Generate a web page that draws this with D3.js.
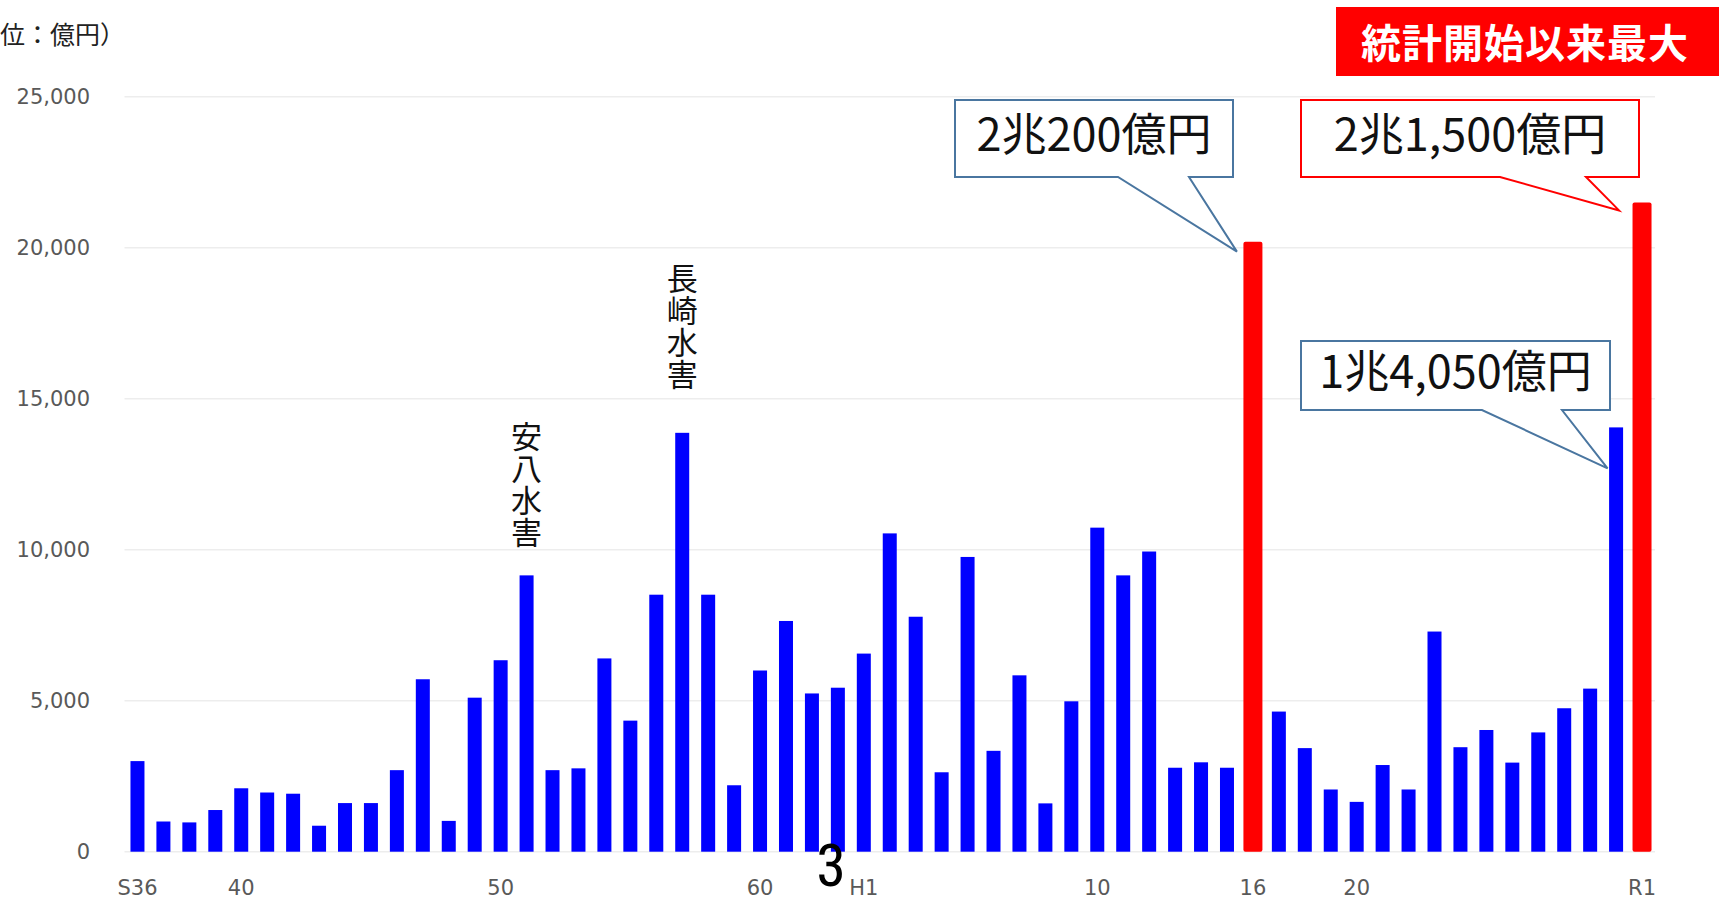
<!DOCTYPE html>
<html><head><meta charset="utf-8">
<script src="https://cdn.jsdelivr.net/npm/d3@7"></script>
<style>
html,body{margin:0;padding:0;background:#fff;overflow:hidden;}
svg{display:block;}
.vt{writing-mode:vertical-rl;text-orientation:upright;}
</style></head>
<body>
<svg id="c" width="1719" height="907"></svg>
<script>
const categories = [
  "S36","S37","S38","S39","S40","S41","S42","S43","S44","S45","S46","S47","S48","S49","S50",
  "S51","S52","S53","S54","S55","S56","S57","S58","S59","S60","S61","S62","S63",
  "H1","H2","H3","H4","H5","H6","H7","H8","H9","H10","H11","H12","H13","H14","H15","H16",
  "H17","H18","H19","H20","H21","H22","H23","H24","H25","H26","H27","H28","H29","H30","R1"
];
const values = [
  3000,1000,970,1380,2100,1960,1920,860,1610,1610,2700,5710,1020,5100,6340,
  9150,2700,2760,6400,4340,8510,13870,8510,2200,6000,7640,5240,5430,
  6560,10540,7780,2630,9760,3340,5840,1600,4980,10730,9150,9940,2780,2960,2780,20200,
  4640,3430,2060,1650,2870,2060,7290,3460,4030,2950,3950,4750,5400,14050,21500
];
const highlightCats = ["H16","R1"];
const yTicks = [0,5000,10000,15000,20000,25000];
const xTickCats = ["S36","S40","S50","S60","H1","H10","H16","H20","R1"];
const xTickText = ["S36","40","50","60","H1","10","16","20","R1"];
const calloutText = ["2兆200億円","2兆1,500億円","1兆4,050億円"];
const calloutCats = ["H16","R1","H30"];
const eventLabels = ["安八水害","長崎水害"];
const eventCats = ["S51","S57"];
const unitLabel = "（単位：億円）";
const badgeText = "統計開始以来最大";
const pageNo = "3";

const svg = d3.select("#c");
const x = d3.scaleBand().domain(categories).range([124.5,1655]).paddingInner(0).paddingOuter(0);
const y = d3.scaleLinear().domain([0,25000]).range([851.7,96.7]);
const cx = c => x(c) + x.bandwidth()/2;
const valOf = c => values[categories.indexOf(c)];

// gridlines
svg.append("g").selectAll("line").data(yTicks).join("line")
  .attr("x1",124.5).attr("x2",1655)
  .attr("y1",d=>y(d)).attr("y2",d=>y(d))
  .attr("stroke","#EDEDED").attr("stroke-width",1.5);

// y tick labels
svg.append("g").selectAll("text").data(yTicks).join("text")
  .attr("x",90).attr("y",d=>y(d)).attr("dy","0.36em")
  .attr("text-anchor","end")
  .attr("font-family","DejaVu Sans, sans-serif").attr("font-size",21)
  .attr("fill","#595959")
  .text(d=>d3.format(",")(d));

// x tick labels
svg.append("g").selectAll("text").data(xTickCats).join("text")
  .attr("x",d=>cx(d)).attr("y",895)
  .attr("text-anchor","middle")
  .attr("font-family","DejaVu Sans, sans-serif").attr("font-size",21)
  .attr("fill","#595959")
  .text((d,i)=>xTickText[i]);

// bars
const isHi = c => highlightCats.includes(c);
svg.append("g").selectAll("rect").data(categories).join("rect")
  .attr("x",d=> cx(d) - (isHi(d)? 9.5 : 7))
  .attr("width",d=> isHi(d)? 19 : 14)
  .attr("y",d=>y(valOf(d)))
  .attr("height",d=>y(0)-y(valOf(d)))
  .attr("rx",d=>isHi(d)?2:0)
  .attr("fill",d=> isHi(d)? "#FF0000" : "#0000FF");

// unit label
svg.append("text").attr("x",-50).attr("y",44)
  .attr("font-family","Noto Sans CJK JP, sans-serif").attr("font-size",25)
  .attr("fill","#222").text(unitLabel);

// badge
svg.append("rect").attr("x",1336).attr("y",7).attr("width",390).attr("height",69).attr("fill","#FF0000");
svg.append("text").attr("x",1525).attr("y",58).attr("text-anchor","middle")
  .attr("font-family","Noto Sans CJK JP, sans-serif").attr("font-size",40).attr("font-weight",700)
  .attr("letter-spacing",1)
  .attr("fill","#fff").text(badgeText);

// callouts
const boxes = [
  {x0:955,x1:1233,y0:100,y1:177,w0:1118,w1:1189,dx:-16,dy:10,stroke:"#4A76A0"},
  {x0:1301,x1:1639,y0:100,y1:177,w0:1500,w1:1586,dx:-23,dy:8,stroke:"#FF0000"},
  {x0:1301,x1:1610,y0:341,y1:410,w0:1482,w1:1562,dx:-8.5,dy:41,stroke:"#4A76A0"}
];
const cg = svg.append("g");
calloutCats.forEach((c,i)=>{
  const b = boxes[i];
  const tx = cx(c) + b.dx, ty = y(valOf(c)) + b.dy;
  const p = d3.path();
  p.moveTo(b.x0,b.y0); p.lineTo(b.x1,b.y0); p.lineTo(b.x1,b.y1);
  p.lineTo(b.w1,b.y1); p.lineTo(tx,ty); p.lineTo(b.w0,b.y1);
  p.lineTo(b.x0,b.y1); p.closePath();
  cg.append("path").attr("d",p.toString()).attr("fill","#fff")
    .attr("stroke",b.stroke).attr("stroke-width",2).attr("stroke-linejoin","miter");
  cg.append("text").attr("x",(b.x0+b.x1)/2).attr("y",(b.y0+b.y1)/2+12)
    .attr("text-anchor","middle")
    .attr("font-family","Noto Sans CJK JP, sans-serif").attr("font-size",45)
    .attr("fill","#111").text(calloutText[i]);
});

// vertical event labels (single vertical text each)
const eventTop = [421,263];
eventCats.forEach((c,i)=>{
  svg.append("text").attr("class","vt")
    .attr("x",cx(c)).attr("y",eventTop[i])
    .attr("font-family","Noto Sans CJK JP, sans-serif").attr("font-size",31)
    .attr("letter-spacing",1)
    .attr("fill","#111").text(eventLabels[i]);
});

// page number
svg.append("text").attr("x",831).attr("y",886).attr("text-anchor","middle")
  .attr("font-family","Liberation Sans Narrow, Arial Narrow, Roboto Condensed, sans-serif")
  .attr("font-size",60).attr("fill","#000").text(pageNo);
</script>
</body></html>
